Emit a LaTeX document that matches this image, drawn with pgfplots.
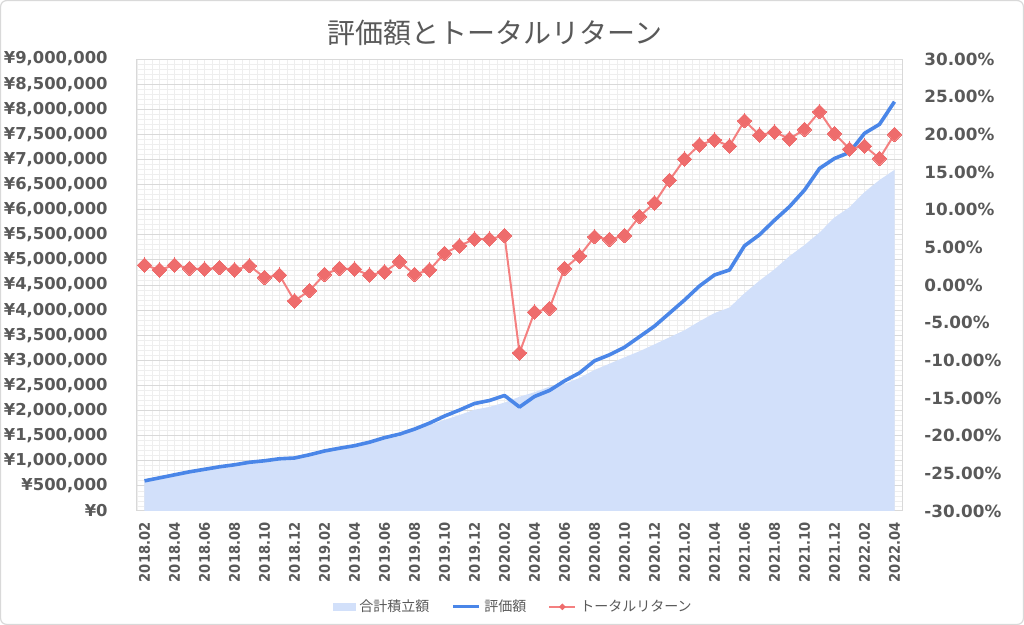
\documentclass[border=0pt]{standalone}
\usepackage{fontspec}
\usepackage{pgfplots}
\pgfplotsset{compat=1.18}
\usepackage{pgfplotstable}
\setmainfont{Noto Sans CJK JP}
\newfontfamily\tickfont{DejaVu Sans}
\newfontfamily\xtickfont{DejaVu Sans Condensed}

\definecolor{areablue}{RGB}{210,224,250}
\definecolor{evalblue}{RGB}{74,134,232}
\definecolor{retline}{RGB}{244,128,128}
\definecolor{retmark}{RGB}{238,108,108}
\definecolor{txtgray}{RGB}{89,89,89}
\definecolor{gridmaj}{RGB}{217,217,217}
\definecolor{gridmin}{RGB}{238,238,238}
\definecolor{frame}{RGB}{217,217,217}

% i = month index (0 = 2018.02), total = 合計積立額, value = 評価額, ret = トータルリターン [%]
\pgfplotstableread{
i  total   value   ret
0  585000  600000  2.65
1  647000  660000  2.00
2  701000  720000  2.65
3  763000  780000  2.20
4  813000  830000  2.10
5  860000  880000  2.30
6  902000  920000  2.00
7  946000  970000  2.55
8  990000  1000000 1.00
9  1027000 1040000 1.30
10 1078000 1055000 -2.10
11 1128000 1120000 -0.75
12 1178000 1195000 1.40
13 1223000 1250000 2.20
14 1273000 1300000 2.10
15 1352000 1370000 1.30
16 1435000 1460000 1.75
17 1484000 1530000 3.10
18 1607000 1630000 1.40
19 1716000 1750000 2.00
20 1814000 1890000 4.20
21 1911000 2010000 5.20
22 2017000 2140000 6.10
23 2073000 2200000 6.10
24 2159000 2300000 6.55
25 2275000 2070000 -9.00
26 2365000 2280000 -3.60
27 2477000 2400000 -3.10
28 2534000 2590000 2.20
29 2648000 2750000 3.85
30 2810000 2990000 6.40
31 2933000 3110000 6.05
32 3060000 3260000 6.55
33 3181000 3470000 9.10
34 3318000 3680000 10.90
35 3459000 3940000 13.90
36 3599000 4200000 16.70
37 3777000 4480000 18.60
38 3941000 4700000 19.25
39 4052000 4800000 18.45
40 4335000 5280000 21.80
41 4587000 5500000 19.90
42 4813000 5790000 20.30
43 5075000 6060000 19.40
44 5296000 6390000 20.65
45 5545000 6820000 23.00
46 5845000 7020000 20.10
47 6048000 7140000 18.05
48 6349000 7520000 18.45
49 6592000 7700000 16.80
50 6792000 8150000 20.00
}\chartdata

\begin{document}
\begin{tikzpicture}
\useasboundingbox (-68.5pt,-57pt) rectangle (443.5pt,255.5pt);
\draw[frame, line width=0.6pt, rounded corners=3pt] (-68.2pt,-56.7pt) rectangle (443.2pt,255.2pt);

\begin{axis}[
    at={(0,0)}, anchor=south west,
    scale only axis, width=382.5pt, height=226pt,
    xmin=-0.5, xmax=50.5,
    ymin=0, ymax=9000000,
    xtick={0,2,...,50},
    xticklabels={2018.02,2018.04,2018.06,2018.08,2018.10,2018.12,
                 2019.02,2019.04,2019.06,2019.08,2019.10,2019.12,
                 2020.02,2020.04,2020.06,2020.08,2020.10,2020.12,
                 2021.02,2021.04,2021.06,2021.08,2021.10,2021.12,
                 2022.02,2022.04},
    minor xtick={-0.5,0,...,50.5},
    ytick distance=500000,
    minor y tick num=4,
    scaled y ticks=false,
    major tick length=0pt, minor tick length=0pt,
    ymajorgrids, yminorgrids, xminorgrids,
    major grid style={gridmaj, line width=0.5pt},
    minor grid style={gridmin, line width=0.4pt},
    axis line style={gridmaj, line width=0.5pt},
    /pgf/number format/.cd, fixed, precision=0, 1000 sep={,}, assume math mode=true,
    /pgfplots/.cd,
    yticklabel={¥\pgfmathprintnumber{\tick}},
    yticklabel style={font=\tickfont\bfseries\fontsize{8.2}{10}\selectfont, text=txtgray, inner sep=0pt, xshift=-14.5pt},
    xticklabel style={font=\xtickfont\bfseries\fontsize{7.3}{9}\selectfont, text=txtgray, yshift=-5.5pt, rotate=90, anchor=east, inner sep=0pt},
    title={評価額とトータルリターン},
    title style={at={(0.468,1.0575)}, anchor=center, yshift=-6pt, font=\fontsize{14}{16}\selectfont, text=txtgray},
]
\addplot[fill=areablue, draw=none] table[x=i, y=total]{\chartdata} \closedcycle;
\addplot[evalblue, line width=1.8pt, line join=round] table[x=i, y=value]{\chartdata};
\end{axis}

\begin{axis}[
    at={(0,0)}, anchor=south west,
    scale only axis, width=382.5pt, height=226pt,
    xmin=-0.5, xmax=50.5,
    ymin=-30, ymax=30,
    axis x line=none, axis y line*=right,
    y axis line style={draw=none},
    ytick distance=5,
    major tick length=0pt,
    /pgf/number format/assume math mode=true,
    yticklabel={\pgfmathprintnumber[fixed, fixed zerofill, precision=2]{\tick}\%},
    yticklabel style={font=\tickfont\bfseries\fontsize{8.4}{10}\selectfont, text=txtgray, inner sep=0pt, anchor=west, xshift=11pt},
    legend columns=-1,
    legend style={at={(0.493,-0.212)}, anchor=center, draw=none, fill=none,
        font=\fontsize{7}{8}\selectfont, text=txtgray,
        /tikz/every even column/.append style={column sep=9pt}},
]
\addlegendimage{legend image code/.code={\fill[areablue] (0pt,-1.6pt) rectangle (11pt,1.6pt);}}
\addlegendentry{合計積立額}
\addlegendimage{legend image code/.code={\draw[evalblue, line width=1.5pt] (0pt,0pt) -- (13pt,0pt);}}
\addlegendentry{評価額}
\addlegendimage{legend image code/.code={\draw[retline, line width=1pt] (0pt,0pt) -- (13pt,0pt);
    \fill[retmark] (6.5pt,1.4pt) -- (7.9pt,0pt) -- (6.5pt,-1.4pt) -- (5.1pt,0pt) -- cycle;}}
\addlegendentry{トータルリターン}
\addplot[retline, line width=1pt, mark=square*, mark size=2.55pt,
    mark options={rotate=45, fill=retmark, draw=retmark, line width=0pt}, forget plot]
    table[x=i, y=ret]{\chartdata};
\end{axis}
\end{tikzpicture}
\end{document}
